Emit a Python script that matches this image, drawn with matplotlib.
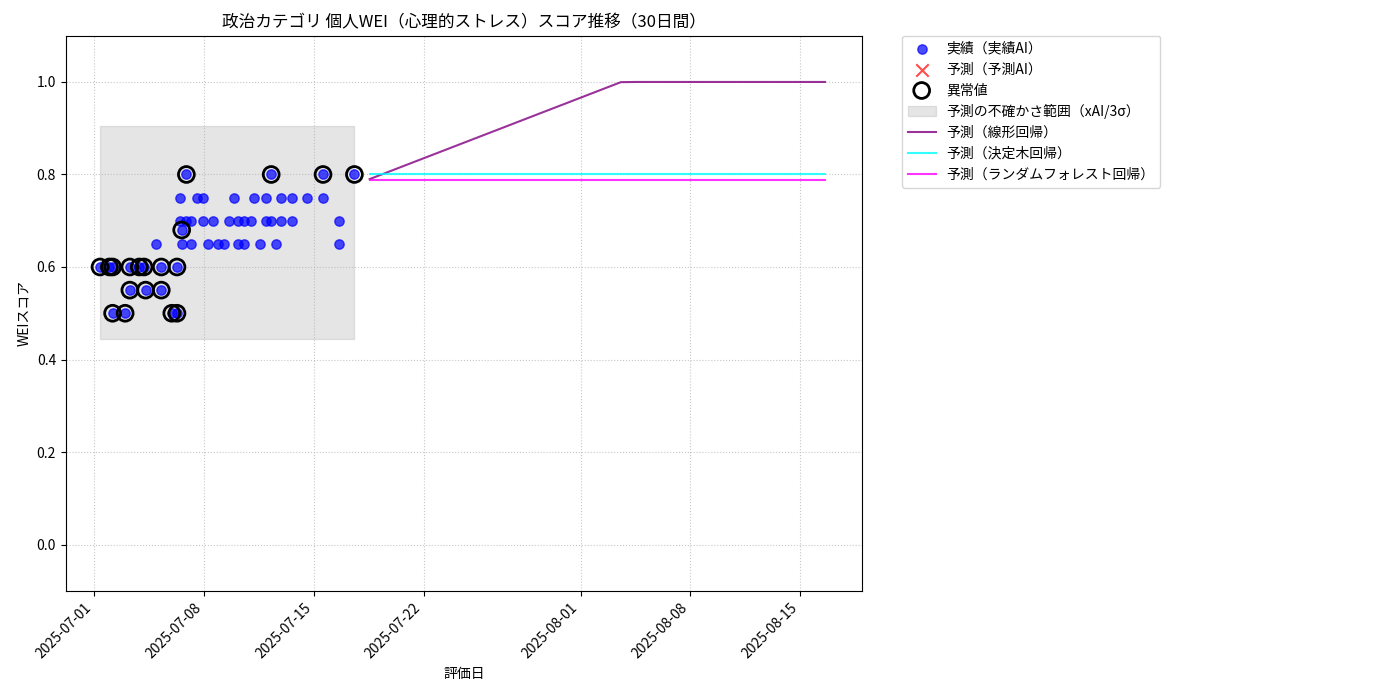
import matplotlib
matplotlib.use("Agg")
import matplotlib.pyplot as plt
import matplotlib.dates as mdates
import numpy as np
import pandas as pd

plt.rcParams['font.family'] = ['Noto Sans CJK JP', 'DejaVu Sans']

base = pd.Timestamp("2025-07-01")
# actual observations: (pixel-read day offset, score)
obs_days = [0.4,1.0,1.2,2.3,2.9,3.2,4.3,5.3,
            2.3,3.3,4.3,
            1.2,2.0,4.97,5.3,
            5.9,11.3,14.6,16.6,
            5.6,
            5.5,6.6,6.95,8.9,10.2,10.95,11.9,12.6,13.6,14.6,
            5.5,5.9,6.2,6.95,7.6,8.6,9.2,9.6,10.0,10.95,11.3,11.9,12.6,15.6,
            3.95,5.6,6.2,7.25,7.9,8.3,9.2,9.6,10.6,11.6,15.6]
obs_vals = [0.6]*8 + [0.55]*3 + [0.5]*4 + [0.8]*4 + [0.68] + [0.75]*10 + [0.7]*14 + [0.65]*11
outlier_n = 20

pred_start = 17.57
pred_n = 30
lin_start, lin_slope = 0.79, 0.0131
tree_val = 0.80
rf_val = 0.787
band_lo, band_hi = 0.445, 0.905

obs_dates = [base + pd.Timedelta(days=d) for d in obs_days]
pred_dates = [base + pd.Timedelta(days=pred_start + i) for i in range(pred_n)]
lin_vals = np.minimum(1.0, lin_start + lin_slope * np.arange(pred_n))

fig = plt.figure(figsize=(14, 7), dpi=100)
ax = fig.add_axes([0.047, 0.156, 0.569, 0.793])

ax.scatter(obs_dates, obs_vals, color='blue', alpha=0.7, s=45, label='実績（実績AI）', zorder=3)
ax.scatter([], [], color='red', marker='x', s=80, alpha=0.7, label='予測（予測AI）')
ax.scatter(obs_dates[:outlier_n], obs_vals[:outlier_n], facecolors='none', edgecolors='black',
           linewidths=2, s=130, label='異常値', zorder=4)
ax.fill_between([min(obs_dates), max(obs_dates)], band_lo, band_hi, color='gray', alpha=0.2,
                label='予測の不確かさ範囲（xAI/3σ）')
ax.plot(pred_dates, lin_vals, color='purple', alpha=0.8, label='予測（線形回帰）')
ax.plot(pred_dates, [tree_val]*pred_n, color='cyan', alpha=0.8, label='予測（決定木回帰）')
ax.plot(pred_dates, [rf_val]*pred_n, color='magenta', alpha=0.8, label='予測（ランダムフォレスト回帰）')

ax.set_ylim(-0.1, 1.1)
ax.set_xlim(base - pd.Timedelta(days=1.78), base + pd.Timedelta(days=48.95))
ax.set_xticks([pd.Timestamp(d) for d in ["2025-07-01","2025-07-08","2025-07-15","2025-07-22",
                                         "2025-08-01","2025-08-08","2025-08-15"]])
ax.xaxis.set_major_formatter(mdates.DateFormatter('%Y-%m-%d'))
plt.setp(ax.get_xticklabels(), rotation=45, ha='right')
ax.grid(True, linestyle=':', alpha=0.7)
ax.set_title('政治カテゴリ 個人WEI（心理的ストレス）スコア推移（30日間）')
ax.set_xlabel('評価日')
ax.set_ylabel('WEIスコア')
ax.legend(loc='upper left', bbox_to_anchor=(1.05, 1.0), borderaxespad=0.)
fig.savefig('out.png', dpi=100)
